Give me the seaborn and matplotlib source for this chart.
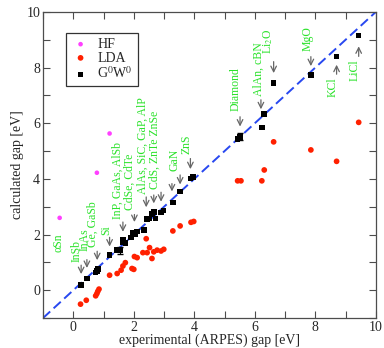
import numpy as np
import pandas as pd
import matplotlib
matplotlib.use("Agg")
import matplotlib.pyplot as plt
import seaborn as sns

# band gaps [eV]
hf_exp = [-0.45, 0.78, 1.20]
hf_calc = [2.60, 4.22, 5.63]

lda_exp = [0.24, 0.43, 0.74, 0.78, 0.81, 0.85, 1.20, 1.45, 1.58, 1.64, 1.72,
           1.94, 2.00, 2.02, 2.11, 2.30, 2.41, 2.44, 2.52, 2.60, 2.66, 2.77,
           2.90, 2.99, 3.29, 3.53, 3.89, 3.98, 5.43, 5.54, 6.23, 6.31, 6.62,
           7.85, 8.70, 9.43]
lda_calc = [-0.50, -0.36, -0.20, -0.12, -0.04, 0.04, 0.54, 0.60, 0.72, 0.87,
            0.99, 0.78, 0.75, 1.21, 1.17, 1.35, 1.85, 1.35, 1.53, 1.14, 1.38,
            1.44, 1.41, 1.47, 2.13, 2.31, 2.44, 2.47, 3.93, 3.93, 3.93, 4.32,
            5.33, 5.04, 4.63, 6.03]

gw_exp = [0.26, 0.45, 0.74, 0.78, 0.81, 1.20, 1.45, 1.55, 1.64, 1.64, 1.72,
          1.91, 1.97, 2.06, 2.11, 2.33, 2.43, 2.52, 2.61, 2.66, 2.72, 2.90,
          2.98, 3.29, 3.53, 3.87, 3.95, 5.43, 5.51, 6.23, 6.31, 6.62, 7.85,
          8.70, 9.43]
gw_calc = [0.19, 0.42, 0.64, 0.70, 0.77, 1.27, 1.44, 1.43, 1.83, 1.72, 1.69,
           1.90, 2.07, 2.01, 2.11, 2.16, 2.55, 2.58, 2.73, 2.82, 2.58, 2.80,
           2.86, 3.15, 3.54, 4.02, 4.06, 5.43, 5.51, 5.85, 6.33, 7.45, 7.73,
           8.40, 9.15]

# labels pointing down: (text, text x, text bottom y, arrow x list, arrow top, arrow tip)
labels_down = [
    ("αSn", -0.50, 1.37, [], [], []),
    ("InSb", 0.10, 1.00, [0.26], [1.00], [0.48]),
    ("InAs", 0.38, 1.42, [0.45], [1.20], [0.70]),
    ("Ge, GaSb", 0.64, 1.55, [0.79], [1.50], [0.98]),
    ("Si", 1.09, 2.00, [1.20], [2.00], [1.47]),
    ("InP, GaAs, AlSb", 1.47, 2.55, [1.64], [2.55], [2.00]),
    ("CdSe, CdTe", 1.86, 2.88, [2.02], [2.82], [2.35]),
    ("AlAs, SiC, GaP, AlP", 2.28, 3.45, [2.41], [3.45], [2.88]),
    ("CdS, ZnTe ZnSe", 2.68, 3.62, [2.66, 2.90], [3.52, 3.62], [3.02, 3.08]),
    ("GaN", 3.34, 4.30, [3.26, 3.53], [3.93, 4.24], [3.45, 3.70]),
    ("ZnS", 3.73, 4.88, [3.87], [4.83], [4.25]),
    ("Diamond", 5.38, 6.44, [5.51], [6.33], [5.78]),
    ("AlAn, cBN", 6.12, 6.98, [6.20], [6.94], [6.40]),
    ("Li$_2$O", 6.45, 8.49, [6.62], [8.31], [7.70]),
    ("MgO", 7.74, 8.60, [7.85], [8.49], [7.95]),
]
# labels below their point, arrow pointing up
labels_up = [
    ("KCl", 8.57, 7.66, 8.70, 7.66, 8.20),
    ("LiCl", 9.28, 8.30, 9.43, 8.30, 8.86),
]

sns.set_style("ticks")
plt.rcParams['font.family'] = ['Liberation Serif', 'DejaVu Serif']
plt.rcParams['mathtext.fontset'] = 'stix'

fig = plt.figure(figsize=(3.84, 3.48), dpi=100)
ax = fig.add_axes([0.112, 0.086, 0.867, 0.880])

ax.plot([-1, 10], [-1, 10], color='#2848f0', lw=1.4, dashes=(5, 2.4), zorder=1)

sns.scatterplot(x=hf_exp, y=hf_calc, ax=ax, color='#ff40ff', marker='o', s=11,
                edgecolor='none', label='HF', zorder=3)
sns.scatterplot(x=lda_exp, y=lda_calc, ax=ax, color='#ff2000', marker='o', s=17,
                edgecolor='none', label='LDA', zorder=3)
sns.scatterplot(x=gw_exp, y=gw_calc, ax=ax, color='black', marker='s', s=16,
                edgecolor='none', label='G$^0$W$^0$', zorder=4)

# a couple of small error bars on the GW points
ax.errorbar([1.55, 5.51], [1.43, 5.51], yerr=[0.12, 0.12], fmt='none',
            ecolor='black', elinewidth=0.8, capsize=2, zorder=4)

green = '#2be22b'
for txt, tx, ty, axs, tops, tips in labels_down:
    ax.text(tx, ty, txt, rotation=90, ha='center', va='bottom', color=green,
            fontsize=8.5)
    for xa, t0, t1 in zip(axs, tops, tips):
        ax.annotate('', xy=(xa, t1), xytext=(xa, t0),
                    arrowprops=dict(arrowstyle='->', color='0.4', lw=0.9))
for txt, tx, ty, xa, t0, t1 in labels_up:
    ax.text(tx, ty, txt, rotation=90, ha='center', va='top', color=green,
            fontsize=8.5)
    ax.annotate('', xy=(xa, t1), xytext=(xa, t0),
                arrowprops=dict(arrowstyle='->', color='0.4', lw=0.9))

ax.set_xlim(-1, 10)
ax.set_ylim(-1, 10)
ax.set_xticks(np.arange(0, 11, 2))
ax.set_yticks(np.arange(0, 11, 2))
ax.set_xticks(np.arange(-1, 10, 1), minor=True)
ax.set_yticks(np.arange(-1, 10, 1), minor=True)
ax.tick_params(which='both', direction='in', top=True, right=True,
               labelsize=10, length=5, width=0.8, color='0.3', pad=2)
for sp in ax.spines.values():
    sp.set_linewidth(0.9)
    sp.set_color('0.3')

ax.set_xlabel('experimental (ARPES) gap [eV]', fontsize=10, labelpad=0)
ax.set_ylabel('calculated gap [eV]', fontsize=10, labelpad=2)

leg = ax.legend(loc='upper left', bbox_to_anchor=(0.069, 0.931), fancybox=False,
                framealpha=1, edgecolor='0.2', fontsize=10, handletextpad=0.5,
                borderpad=0.35, labelspacing=0.05, handlelength=1.4,
                borderaxespad=0, markerscale=1.0)
leg.get_frame().set_linewidth(0.9)

fig.savefig('out.png', dpi=100)
